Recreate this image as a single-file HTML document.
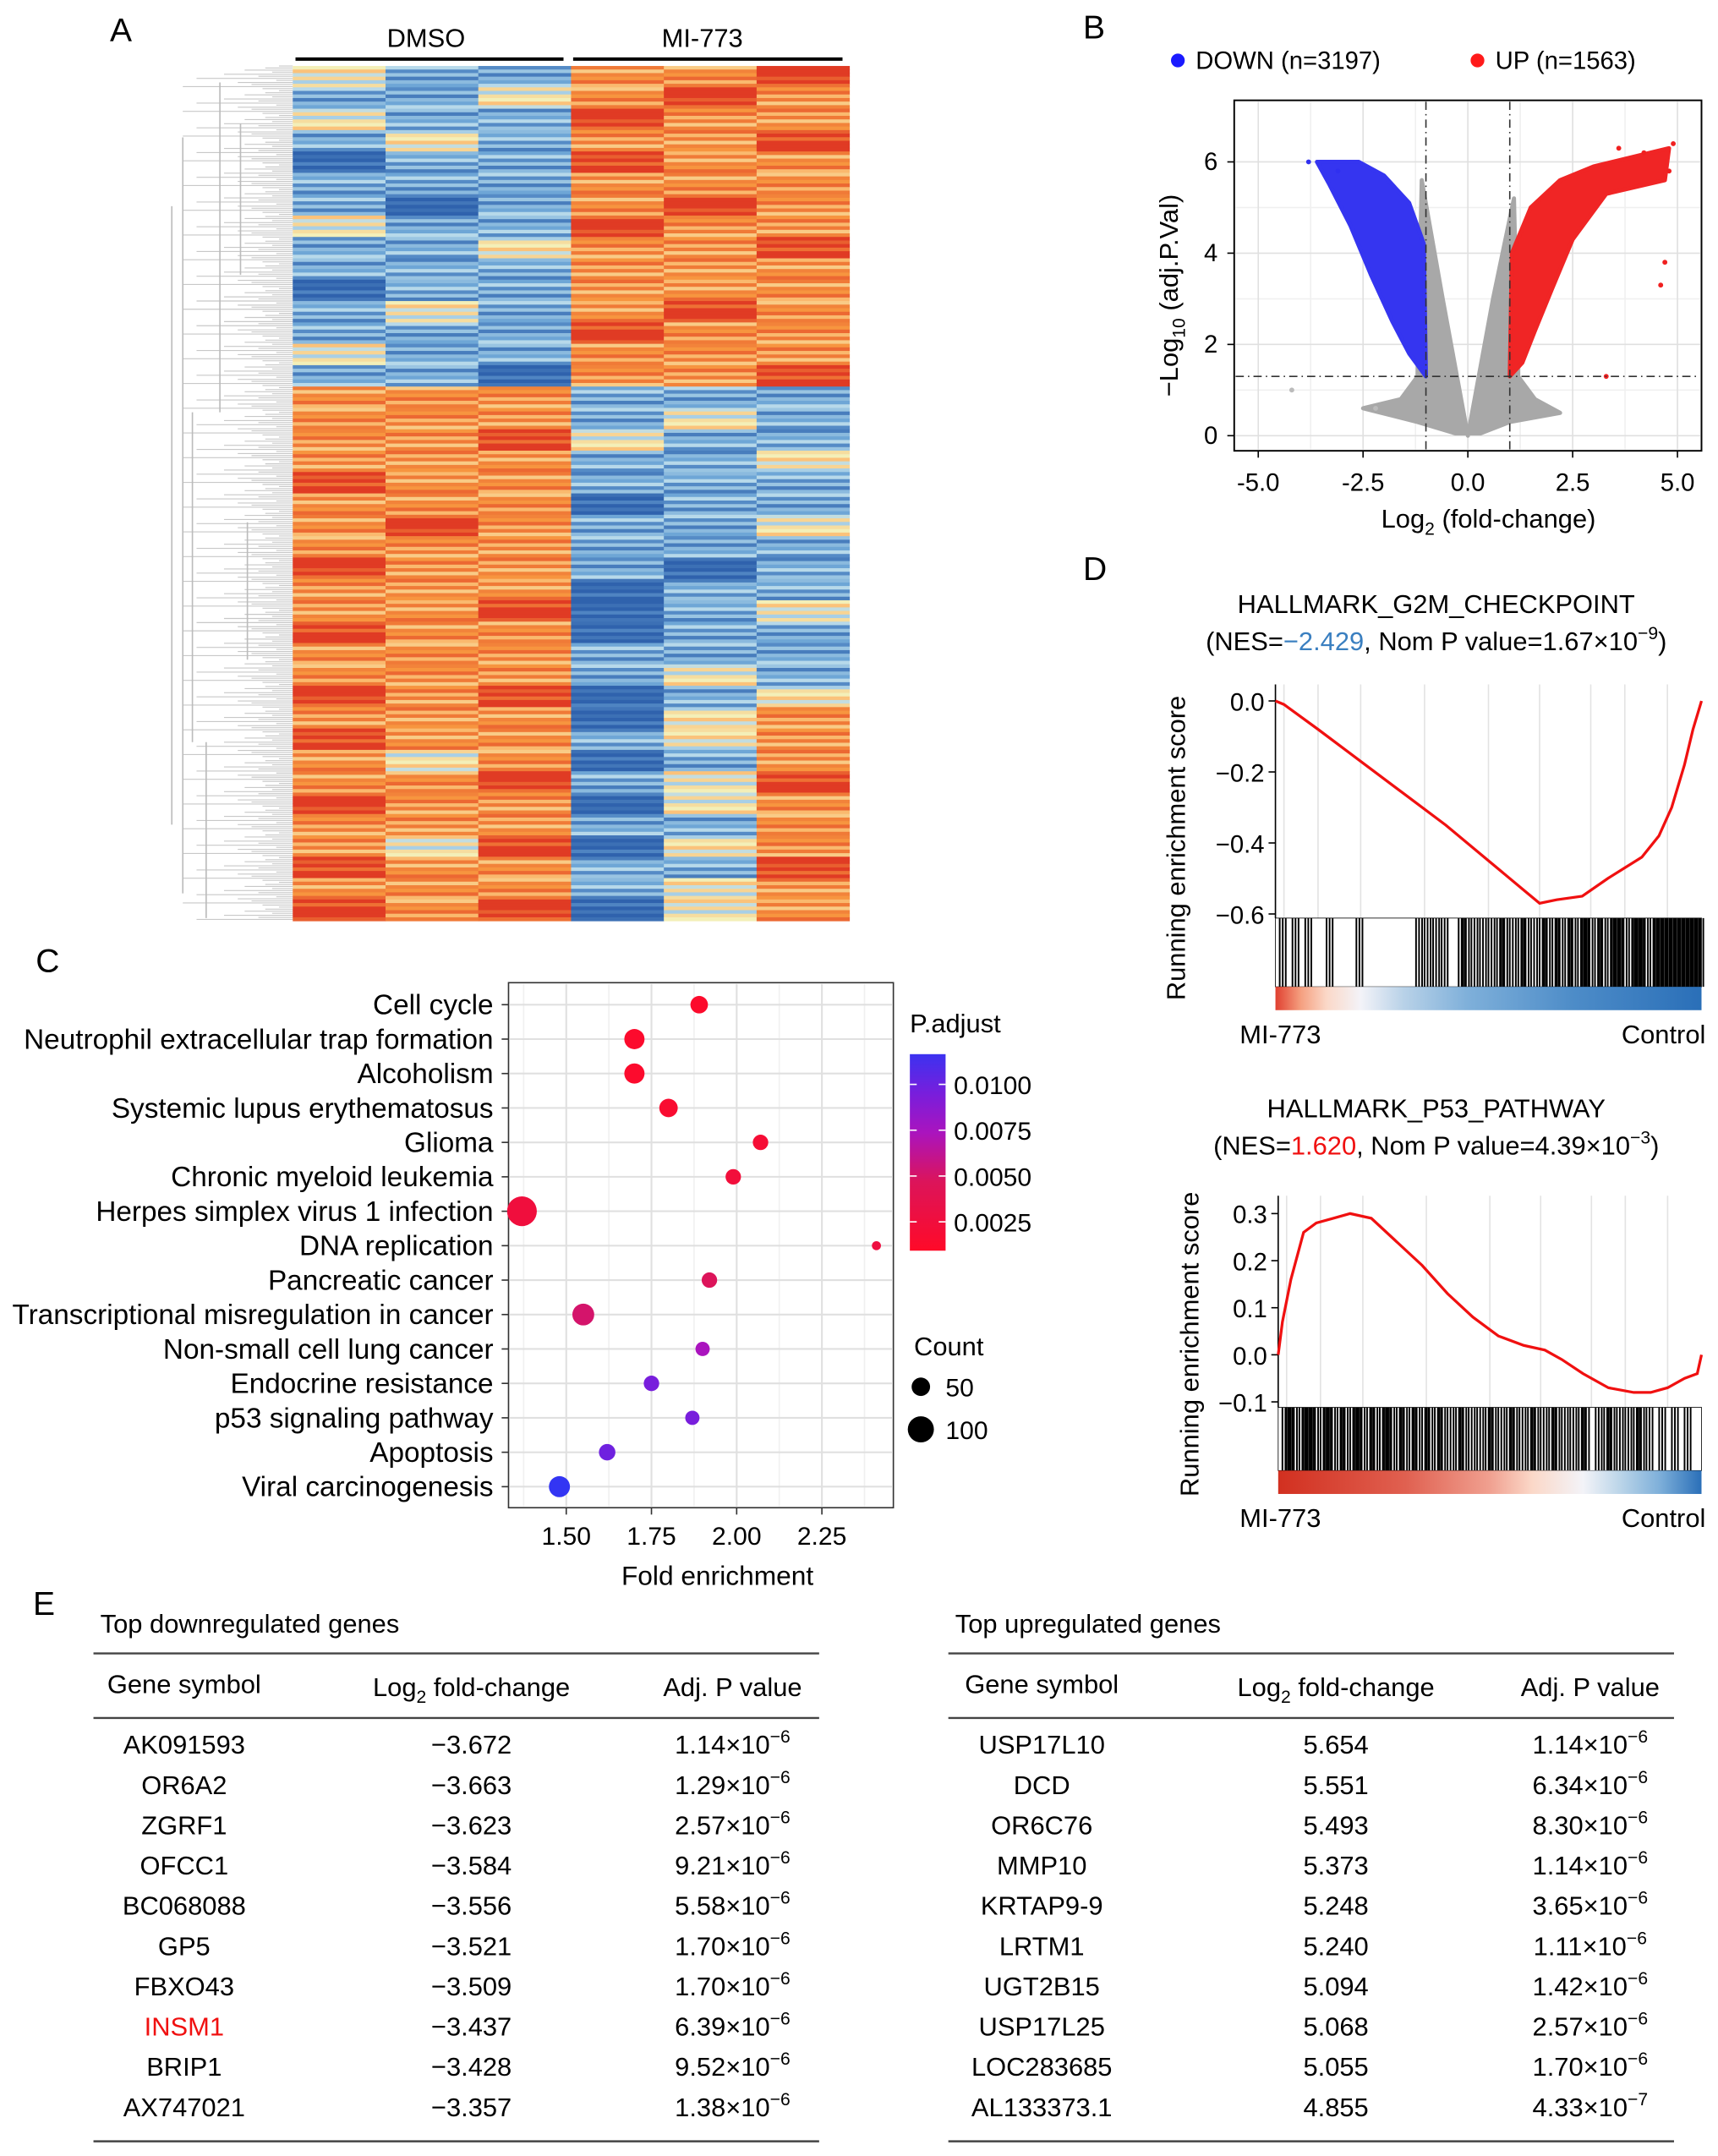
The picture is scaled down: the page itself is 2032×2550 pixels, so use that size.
<!DOCTYPE html>
<html><head><meta charset="utf-8"><style>
html,body{margin:0;padding:0;background:#fff}
svg{display:block;font-family:"Liberation Sans",Arial,sans-serif}
</style></head><body>
<svg id="fig" width="2032" height="2550" viewBox="0 0 1250 1568.7" preserveAspectRatio="none" xmlns="http://www.w3.org/2000/svg">
<rect width="1250" height="1569" fill="#fff"/>
<g id="panelA">
<text x="80" y="30" font-size="24">A</text>
<text x="310" y="34" font-size="19" text-anchor="middle">DMSO</text>
<line x1="215" y1="43" x2="410" y2="43" stroke="#000" stroke-width="2.5"/>
<text x="511" y="34" font-size="19" text-anchor="middle">MI-773</text>
<line x1="417" y1="43" x2="613" y2="43" stroke="#000" stroke-width="2.5"/>
<g id="dendro"></g>
<g id="heat"></g>
</g>
<g id="panelB">
<text x="788" y="28" font-size="24">B</text>
<circle cx="857" cy="44" r="5" fill="#1a1aff"/>
<text x="870" y="50" font-size="18">DOWN (n=3197)</text>
<circle cx="1075" cy="44" r="5" fill="#ff1a1a"/>
<text x="1088" y="50" font-size="18">UP (n=1563)</text>
<g id="volc"></g>
</g>
<g id="panelC">
<text x="26" y="707" font-size="24">C</text>
<g id="dot"></g>
</g>
<g id="panelD">
<text x="788" y="422" font-size="24">D</text>
<g id="gsea"></g>
</g>
<g id="panelE">
<text x="24" y="1175" font-size="24">E</text>
<g id="tables"></g>
</g>
</svg>
<script>
const NS="http://www.w3.org/2000/svg";
function mk(parent,tag,attrs,text){const e=document.createElementNS(NS,tag);for(const k in attrs)e.setAttribute(k,attrs[k]);if(text!==undefined)e.textContent=text;parent.appendChild(e);return e;}

/* ---------- Panel A heatmap data ---------- */
const heatRows=[
[0,-1,-1,1,1,2],[-1,-1,0,1,2,1],[0,-1,-1,2,1,1],[-1,0,-1,1,1,2],[-2,-1,-1,2,1,1],
[-1,-1,-1,1,1,1],[-1,-2,-1,1,2,1],[0,-1,-1,2,1,1],[-1,-1,0,1,1,2],[-1,-1,-1,1,1,1],
[-2,-1,-1,1,1,1],[-1,0,-1,1,2,1],[-1,-1,-1,2,1,1],[0,-1,-1,1,1,1],[-1,-1,-2,1,1,2],
[1,1,1,-1,-1,-1],[1,1,1,-1,0,-1],[1,1,2,0,-1,-1],[1,1,1,-1,-1,0],[2,1,1,-1,-1,-1],
[1,1,1,-2,-1,-1],[1,2,1,-1,-1,0],[1,1,1,-1,-1,-1],[2,1,1,-1,-2,-1],[1,1,1,-2,-1,-1],
[1,1,2,-2,-1,0],[2,1,1,-2,-1,-1],[1,1,1,-1,-1,-1],[1,1,1,-1,0,-1],[2,1,2,-2,-1,0],
[1,1,1,-2,0,1],[2,1,1,-1,0,1],[1,0,1,-2,-1,1],[1,1,2,-1,0,2],[2,1,1,-2,0,1],
[1,1,1,-1,-1,1],[1,0,2,-2,0,1],[2,1,1,-1,-1,2],[1,1,1,-1,0,1],[2,1,2,-2,0,1]];
const heatTexture=[0,0.5,-0.4,0.3,-0.6,0.2];
const palStops=[[-2,[47,98,173]],[-1,[110,166,214]],[-0.5,[183,217,234]],[0,[243,239,184]],[0.5,[251,194,122]],[1,[247,149,63]],[2,[224,59,36]]];
function heatColor(v){v=Math.max(-2,Math.min(2,v));for(let i=0;i<palStops.length-1;i++){const a=palStops[i],b=palStops[i+1];if(v<=b[0]){const t=(v-a[0])/(b[0]-a[0]);return `rgb(${a[1].map((c,j)=>Math.round(c+(b[1][j]-c)*t)).join(',')})`;}}return 'rgb(224,59,36)';}
(function(){
 const g=document.getElementById('heat');const x0=213,x1=618,y0=48,y1=670;
 const cw=(x1-x0)/6, rh=(y1-y0)/heatRows.length, sub=heatTexture.length, sh=rh/sub;
 heatRows.forEach((row,ri)=>{row.forEach((v,ci)=>{for(let s=0;s<sub;s++){
   const r=mk(g,'rect',{x:x0+ci*cw,y:y0+ri*rh+s*sh,width:cw+0.3,height:sh+0.3,fill:heatColor(v+heatTexture[(s+ci+ri)%sub])});
   
   }});});
 const d=document.getElementById('dendro');
 for(let y=y0;y<y1;y+=1.5){const len=[10,20,35,15,50,25,70,12,40,30,80,22][Math.round((y-y0)/1.5)%12];mk(d,'line',{x1:213-len,y1:y,x2:213,y2:y,stroke:'#c8c8c8','stroke-width':0.7});}
 [[160,60,300],[140,300,540],[150,540,668],[125,150,600],[175,90,200],[180,380,480],[133,100,650]].forEach(b=>{mk(d,'line',{x1:b[0],y1:b[1],x2:b[0],y2:b[2],stroke:'#bbb','stroke-width':1});});
})();

/* ---------- Panel B volcano ---------- */
const volcXTicks=[-5,-2.5,0,2.5,5];
const volcYTicks=[0,2,4,6];
const volcDownRegion=[[-1,1.3],[-1.05,4.2],[-1.4,5.1],[-2.0,5.7],[-2.6,6.0],[-3.6,6.0],[-3.3,5.5],[-2.8,4.6],[-2.3,3.5],[-1.8,2.5],[-1.4,1.8]];
const volcUpRegion=[[1,1.3],[1.05,4.0],[1.5,5.0],[2.2,5.6],[3,5.9],[4.8,6.3],[4.7,5.6],[3.3,5.3],[2.5,4.3],[2.0,3.2],[1.6,2.3],[1.3,1.6]];
const volcGrayRegion=[[-1.1,5.6],[-0.6,3.0],[0,0],[0.6,3.0],[1.1,5.2],[1.2,1.3],[1.6,0.8],[2.2,0.5],[1,0.3],[0.3,0.05],[-0.3,0.05],[-1.2,0.3],[-2.5,0.6],[-1.6,0.8],[-1.2,1.3]];
const volcOutliers=[[-4.2,1.0],[-2.2,0.6],[3.3,1.3],[4.6,3.3],[4.7,3.8],[4.8,5.8],[-3.1,5.8],[4.2,6.2],[4.9,6.4],[3.6,6.3],[-3.8,6.0]];
(function(){
 const g=document.getElementById('volc');const X=v=>1068+v*30.5,Y=v=>317-v*33.2;
 mk(g,'rect',{x:898,y:73,width:340,height:255,fill:'#fff',stroke:'#000','stroke-width':1.2});
 [-3.75,-1.25,1.25,3.75].forEach(v=>mk(g,'line',{x1:X(v),y1:74,x2:X(v),y2:327,stroke:'#f0f0f0'}));
 [1,3,5].forEach(v=>mk(g,'line',{x1:899,y1:Y(v),x2:1237,y2:Y(v),stroke:'#f0f0f0'}));
 volcXTicks.forEach(v=>{mk(g,'line',{x1:X(v),y1:74,x2:X(v),y2:327,stroke:'#e0e0e0'});mk(g,'line',{x1:X(v),y1:328,x2:X(v),y2:333,stroke:'#000'});const t=mk(g,'text',{x:X(v),y:357,'font-size':18,'text-anchor':'middle'},v.toFixed(1));});
 volcYTicks.forEach(v=>{mk(g,'line',{x1:899,y1:Y(v),x2:1237,y2:Y(v),stroke:'#e0e0e0'});mk(g,'line',{x1:893,y1:Y(v),x2:898,y2:Y(v),stroke:'#000'});const t=mk(g,'text',{x:886,y:Y(v)+6,'font-size':18,'text-anchor':'end'},v);});
 const poly=(pts,fill)=>mk(g,'polygon',{points:pts.map(p=>X(p[0])+','+Y(p[1])).join(' '),fill:fill,stroke:fill,'stroke-width':3,'stroke-linejoin':'round'});
 const gr=poly(volcGrayRegion,'#a8a8a8');
 const dn=poly(volcDownRegion,'#3535f0');
 const up=poly(volcUpRegion,'#f02525');
 volcOutliers.forEach(p=>{const c=mk(g,'circle',{cx:X(p[0]),cy:Y(p[1]),r:1.8,fill:p[1]<1.3?'#bbb':(p[0]<0?'#3030f0':'#f02020')});});
 [-1,1].forEach(v=>mk(g,'line',{x1:X(v),y1:74,x2:X(v),y2:327,stroke:'#333','stroke-dasharray':'6,3,1,3'}));
 mk(g,'line',{x1:899,y1:Y(1.3),x2:1237,y2:Y(1.3),stroke:'#333','stroke-dasharray':'6,3,1,3'});
 const xt=mk(g,'text',{x:1083,y:384,'font-size':19,'text-anchor':'middle'});xt.innerHTML='Log<tspan font-size="13" dy="5">2</tspan><tspan dy="-5"> (fold-change)</tspan>';
 const yt=mk(g,'text',{x:0,y:0,'font-size':19,'text-anchor':'middle',transform:'translate(857,215) rotate(-90)'});yt.innerHTML='−Log<tspan font-size="13" dy="5">10</tspan><tspan dy="-5"> (adj.P.Val)</tspan>';
})();

/* ---------- Panel C dot plot ---------- */
const dotCategories=["Cell cycle","Neutrophil extracellular trap formation","Alcoholism","Systemic lupus erythematosus","Glioma","Chronic myeloid leukemia","Herpes simplex virus 1 infection","DNA replication","Pancreatic cancer","Transcriptional misregulation in cancer","Non-small cell lung cancer","Endocrine resistance","p53 signaling pathway","Apoptosis","Viral carcinogenesis"];
const dotFold=[1.89,1.70,1.70,1.80,2.07,1.99,1.37,2.41,1.92,1.55,1.90,1.75,1.87,1.62,1.48];
const dotCount=[45,60,60,50,35,35,130,12,35,70,30,35,30,40,65];
const dotPadj=[0.0008,0.0009,0.0009,0.0012,0.0015,0.002,0.0022,0.0025,0.0045,0.005,0.0075,0.0095,0.0095,0.0098,0.0118];
const dotXTicks=[1.5,1.75,2.0,2.25];
const padjTicks=[0.0025,0.005,0.0075,0.01];
const padjStops=[[0.0005,[255,10,40]],[0.0045,[220,20,90]],[0.0075,[170,20,190]],[0.0095,[120,30,220]],[0.0125,[30,60,250]]];
function padjColor(v){for(let i=0;i<padjStops.length-1;i++){const a=padjStops[i],b=padjStops[i+1];if(v<=b[0]){const t=Math.max(0,(v-a[0])/(b[0]-a[0]));return `rgb(${a[1].map((c,j)=>Math.round(c+(b[1][j]-c)*t)).join(',')})`;}}return 'rgb(30,60,250)';}
(function(){
 const g=document.getElementById('dot');const X=v=>412+(v-1.5)*248;const Yc=i=>731+i*25.05;
 mk(g,'rect',{x:370,y:715,width:280,height:382,fill:'#fff',stroke:'#333','stroke-width':1});
 [1.375,1.625,1.875,2.125,2.375].forEach(v=>mk(g,'line',{x1:X(v),y1:716,x2:X(v),y2:1096,stroke:'#f0f0f0'}));
 dotXTicks.forEach(v=>mk(g,'line',{x1:X(v),y1:716,x2:X(v),y2:1096,stroke:'#e0e0e0','stroke-width':1.3}));
 dotCategories.forEach((c,i)=>{mk(g,'line',{x1:371,y1:Yc(i),x2:649,y2:Yc(i),stroke:'#e0e0e0','stroke-width':1.3});mk(g,'line',{x1:365,y1:Yc(i),x2:370,y2:Yc(i),stroke:'#333'});const t=mk(g,'text',{x:359,y:Yc(i)+7,'font-size':20.5,'text-anchor':'end'},c);});
 dotCategories.forEach((c,i)=>{const d=mk(g,'circle',{cx:X(dotFold[i]),cy:Yc(i),r:Math.sqrt(dotCount[i])*0.95,fill:padjColor(dotPadj[i])});});
 dotXTicks.forEach(v=>{mk(g,'line',{x1:X(v),y1:1097,x2:X(v),y2:1102,stroke:'#333'});const t=mk(g,'text',{x:X(v),y:1124,'font-size':18.5,'text-anchor':'middle'},v.toFixed(2));});
 const xt=mk(g,'text',{x:522,y:1153,'font-size':19.5,'text-anchor':'middle'},'Fold enrichment');
 const lt=mk(g,'text',{x:662,y:751,'font-size':19},'P.adjust');
 const Yp=v=>889-(v-0.0025)*(100/0.0075);
 const grd=mk(g,'defs',{});const lg=mk(grd,'linearGradient',{id:'pg',x1:0,y1:1,x2:0,y2:0});
 [[0,0.0005],[0.35,0.0045],[0.6,0.0075],[0.8,0.0095],[1,0.0115]].forEach(s=>mk(lg,'stop',{offset:s[0],'stop-color':padjColor(s[1])}));
 mk(g,'rect',{x:662,y:767,width:26,height:143,fill:'url(#pg)'});
 padjTicks.forEach(v=>{mk(g,'line',{x1:662,y1:Yp(v),x2:667,y2:Yp(v),stroke:'#fff'});mk(g,'line',{x1:683,y1:Yp(v),x2:688,y2:Yp(v),stroke:'#fff'});const t=mk(g,'text',{x:694,y:Yp(v)+7,'font-size':18.5},v.toFixed(4));});
 const ct=mk(g,'text',{x:665,y:986,'font-size':19},'Count');
 [[50,1009],[100,1040]].forEach(s=>{mk(g,'circle',{cx:670,cy:s[1],r:Math.sqrt(s[0])*0.95,fill:'#000'});mk(g,'text',{x:688,y:s[1]+7,'font-size':18.5},s[0]);});
})();

/* ---------- Panel D GSEA ---------- */
const g2mX=[0,0.02,0.1,0.2,0.3,0.4,0.5,0.58,0.62,0.66,0.72,0.78,0.82,0.86,0.9,0.93,0.96,0.98,1];
const g2mES=[0,-0.01,-0.08,-0.17,-0.26,-0.35,-0.45,-0.53,-0.57,-0.56,-0.55,-0.5,-0.47,-0.44,-0.38,-0.3,-0.18,-0.08,0];
const g2mHits=[0.01,0.04,0.07,0.12,0.19,0.33,0.35,0.37,0.39,0.43,0.44,0.46,0.48,0.5,0.52,0.53,0.55,0.57,0.58,0.6,0.62,0.63,0.65,0.66,0.68,0.69,0.71,0.72,0.73,0.75,0.76,0.78,0.79,0.8,0.81,0.83,0.84,0.85,0.86,0.88,0.89,0.9,0.91,0.92,0.93,0.94,0.95,0.96,0.97,0.98,0.99];
const p53X=[0,0.01,0.03,0.06,0.09,0.13,0.17,0.22,0.28,0.34,0.4,0.46,0.52,0.58,0.63,0.67,0.72,0.78,0.84,0.88,0.92,0.96,0.99,1];
const p53ES=[0,0.07,0.16,0.26,0.28,0.29,0.3,0.29,0.24,0.19,0.13,0.08,0.04,0.02,0.01,-0.01,-0.04,-0.07,-0.08,-0.08,-0.07,-0.05,-0.04,0];
const p53Hits=[0.01,0.02,0.03,0.05,0.06,0.07,0.08,0.1,0.11,0.12,0.14,0.15,0.17,0.18,0.19,0.21,0.22,0.24,0.25,0.26,0.28,0.29,0.31,0.32,0.34,0.35,0.37,0.38,0.4,0.42,0.43,0.45,0.47,0.49,0.5,0.52,0.54,0.55,0.57,0.59,0.6,0.62,0.64,0.65,0.67,0.69,0.71,0.72,0.75,0.77,0.78,0.8,0.82,0.84,0.85,0.87,0.9,0.93,0.96];
function gsea(g,cfg){
 const X=f=>cfg.x0+f*(cfg.x1-cfg.x0);const Y=v=>cfg.yTop+(cfg.vmax-v)*(cfg.yBot-cfg.yTop)/(cfg.vmax-cfg.vmin);
 cfg.title.forEach((t,i)=>{const e=mk(g,'text',{x:1045,y:cfg.titleY+i*27,'font-size':19,'text-anchor':'middle'});e.innerHTML=t;});
 [0.02,0.1,0.2,0.35,0.5,0.62,0.74,0.82,0.92].forEach(f=>mk(g,'line',{x1:X(f),y1:cfg.pTop,x2:X(f),y2:cfg.yBar,stroke:'#e3e3e3'}));
 mk(g,'line',{x1:cfg.x0,y1:cfg.pTop,x2:cfg.x0,y2:cfg.yBar,stroke:'#000'});
 cfg.ticks.forEach(v=>{mk(g,'line',{x1:cfg.x0-5,y1:Y(v),x2:cfg.x0,y2:Y(v),stroke:'#000'});const t=mk(g,'text',{x:cfg.x0-8,y:Y(v)+7,'font-size':18,'text-anchor':'end'},v.toFixed(1).replace('-','−'));});
 const ln=mk(g,'polyline',{points:cfg.xs.map((f,i)=>X(f)+','+Y(cfg.es[i])).join(' '),fill:'none',stroke:'#f01010','stroke-width':2});
 mk(g,'rect',{x:cfg.x0,y:cfg.yBar,width:cfg.x1-cfg.x0,height:cfg.barH,fill:'#fff',stroke:'#000','stroke-width':0.5});
 cfg.hits.forEach(f=>{for(let k=0;k<3;k++){const l=mk(g,'line',{x1:X(f)+k*2.2,y1:cfg.yBar,x2:X(f)+k*2.2,y2:cfg.yBar+cfg.barH,stroke:'#000','stroke-width':1.2});}});
 const id='gr'+cfg.titleY;const lg=mk(mk(g,'defs',{}),'linearGradient',{id:id,x1:0,y1:0,x2:1,y2:0});
 cfg.grad.forEach(s=>mk(lg,'stop',{offset:s[0],'stop-color':s[1]}));
 mk(g,'rect',{x:cfg.x0,y:cfg.yBar+cfg.barH,width:cfg.x1-cfg.x0,height:17,fill:'url(#'+id+')'});
 mk(g,'text',{x:902,y:cfg.yBar+cfg.barH+41,'font-size':19},'MI-773');
 mk(g,'text',{x:1241,y:cfg.yBar+cfg.barH+41,'font-size':19,'text-anchor':'end'},'Control');
 const yt=mk(g,'text',{x:0,y:0,'font-size':19,'text-anchor':'middle',transform:`translate(${cfg.ytx},${cfg.yty}) rotate(-90)`},'Running enrichment score');
}
(function(){
 const g=document.getElementById('gsea');
 gsea(g,{x0:928,x1:1238,yTop:510,yBot:665,vmax:0,vmin:-0.6,pTop:498,yBar:668,barH:50,ticks:[0,-0.2,-0.4,-0.6],xs:g2mX,es:g2mES,hits:g2mHits,titleY:446,
  title:['HALLMARK_G2M_CHECKPOINT','(NES=<tspan fill="#3a7fc0">−2.429</tspan>, Nom P value=1.67×10<tspan font-size="13" dy="-8">−9</tspan><tspan dy="8">)</tspan>'],
  grad:[[0,'#e04030'],[0.06,'#f5a080'],[0.12,'#fbd8c8'],[0.2,'#f3f3f8'],[0.3,'#b9d2e8'],[0.45,'#7fb0da'],[0.7,'#4d8cc8'],[1,'#2a6fb8']],ytx:862,yty:617});
 gsea(g,{x0:930,x1:1238,yTop:883,yBot:1020,vmax:0.3,vmin:-0.1,pTop:870,yBar:1024,barH:46,ticks:[0.3,0.2,0.1,0,-0.1],xs:p53X,es:p53ES,hits:p53Hits,titleY:813,
  title:['HALLMARK_P53_PATHWAY','(NES=<tspan fill="#f01010">1.620</tspan>, Nom P value=4.39×10<tspan font-size="13" dy="-8">−3</tspan><tspan dy="8">)</tspan>'],
  grad:[[0,'#d23020'],[0.3,'#e06050'],[0.5,'#f0a090'],[0.6,'#fbd8c8'],[0.72,'#f3f3f8'],[0.8,'#c0d8ea'],[0.9,'#7fb0da'],[1,'#2a6fb8']],ytx:872,yty:978});
})();

/* ---------- Panel E tables ---------- */
const downGenes=["AK091593","OR6A2","ZGRF1","OFCC1","BC068088","GP5","FBXO43","INSM1","BRIP1","AX747021"];
const downFC=["−3.672","−3.663","−3.623","−3.584","−3.556","−3.521","−3.509","−3.437","−3.428","−3.357"];
const downP=[["1.14","6"],["1.29","6"],["2.57","6"],["9.21","6"],["5.58","6"],["1.70","6"],["1.70","6"],["6.39","6"],["9.52","6"],["1.38","6"]];
const upGenes=["USP17L10","DCD","OR6C76","MMP10","KRTAP9-9","LRTM1","UGT2B15","USP17L25","LOC283685","AL133373.1"];
const upFC=["5.654","5.551","5.493","5.373","5.248","5.240","5.094","5.068","5.055","4.855"];
const upP=[["1.14","6"],["6.34","6"],["8.30","6"],["1.14","6"],["3.65","6"],["1.11","6"],["1.42","6"],["2.57","6"],["1.70","6"],["4.33","7"]];
function table(g,x0,x1,cols,title,genes,fc,p,highlight){
 mk(g,'text',{x:x0+5,y:1188,'font-size':19},title);
 mk(g,'line',{x1:x0,y1:1203,x2:x1,y2:1203,stroke:'#444','stroke-width':1.5});
 mk(g,'text',{x:cols[0],y:1232,'font-size':19,'text-anchor':'middle'},'Gene symbol');
 const h=mk(g,'text',{x:cols[1],y:1234,'font-size':19,'text-anchor':'middle'});h.innerHTML='Log<tspan font-size="13" dy="5">2</tspan><tspan dy="-5"> fold-change</tspan>';
 mk(g,'text',{x:cols[2],y:1234,'font-size':19,'text-anchor':'middle'},'Adj. P value');
 mk(g,'line',{x1:x0,y1:1250,x2:x1,y2:1250,stroke:'#444','stroke-width':1.5});
 genes.forEach((n,i)=>{const y=1276+i*29.3;
  const t=mk(g,'text',{x:cols[0],y:y,'font-size':19,'text-anchor':'middle',fill:n===highlight?'#f01010':'#000'},n);
  mk(g,'text',{x:cols[1],y:y,'font-size':19,'text-anchor':'middle'},fc[i]);
  const pv=mk(g,'text',{x:cols[2],y:y,'font-size':19,'text-anchor':'middle'});pv.innerHTML=p[i][0]+'×10<tspan font-size="13" dy="-8">−'+p[i][1]+'</tspan>';});
 mk(g,'line',{x1:x0,y1:1558,x2:x1,y2:1558,stroke:'#444','stroke-width':1.5});
}
(function(){const g=document.getElementById('tables');
 table(g,68,596,[134,343,533],'Top downregulated genes',downGenes,downFC,downP,'INSM1');
 table(g,690,1218,[758,972,1157],'Top upregulated genes',upGenes,upFC,upP,null);})();
</script>
</body></html>
